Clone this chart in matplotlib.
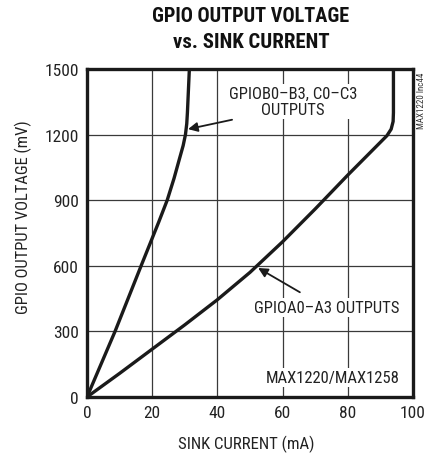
import matplotlib
matplotlib.use("Agg")
import matplotlib.pyplot as plt

plt.rcParams['font.family'] = ['Roboto Condensed', 'Liberation Sans Narrow', 'Liberation Sans', 'DejaVu Sans']

# Data
bc_current = [0, 8.6, 16.6, 22.0, 24.6, 26.7, 28.3, 29.5, 30.2, 30.6, 30.8, 31.1, 31.4]
bc_voltage = [0, 300, 600, 800, 900, 1000, 1086, 1150, 1200, 1250, 1300, 1400, 1500]

a_current = [0, 10, 20, 30, 40, 50, 60, 70, 80, 90, 92, 93.3, 93.9, 94.0, 94.0]
a_voltage = [0, 108, 219, 330, 445, 570, 710, 860, 1015, 1165, 1195, 1225, 1260, 1300, 1500]

x_ticks = [0, 20, 40, 60, 80, 100]
y_ticks = [0, 300, 600, 900, 1200, 1500]

fig = plt.figure(figsize=(4.27, 4.56), dpi=100)
ax = fig.add_axes([87/427, 58/456, 326/427, 328/456])

ax.plot(bc_current, bc_voltage, color='#1a1a1a', lw=2.4, solid_capstyle='round',
        solid_joinstyle='round', zorder=3)
ax.plot(a_current, a_voltage, color='#1a1a1a', lw=2.4, solid_capstyle='round',
        solid_joinstyle='round', zorder=3)

ax.set_xlim(0, 100)
ax.set_ylim(0, 1500)
ax.set_xticks(x_ticks)
ax.set_yticks(y_ticks)
ax.tick_params(length=0, labelsize=12.5, pad=6, colors='#222222')
ax.grid(True, color='#3a3a3a', lw=0.9)
ax.set_axisbelow(True)
for s in ax.spines.values():
    s.set_linewidth(2.4)
    s.set_color('#1a1a1a')

ax.set_xlabel('SINK CURRENT (mA)', fontsize=12, color='#222222')
ax.set_ylabel('GPIO OUTPUT VOLTAGE (mV)', fontsize=12, color='#222222')
ax.xaxis.set_label_coords((246 - 87) / 326, -(445 - 398 - 9) / 328)
ax.yaxis.set_label_coords(-(87 - 32) / 326, (398 - 217) / 328)

t1 = fig.text(251/427, 1 - 17/456, 'GPIO OUTPUT VOLTAGE', ha='center', va='center',
              fontsize=14, fontweight='bold', color='#111111')
t2 = fig.text(251/427, 1 - 43/456, 'vs. SINK CURRENT', ha='center', va='center',
              fontsize=14, fontweight='bold', color='#111111')

box = dict(facecolor='white', edgecolor='none', pad=1.5)
ax.text(63.2, 1352, 'GPIOB0\u2013B3, C0\u2013C3\nOUTPUTS', ha='center', va='center',
        fontsize=12, color='#222222', linespacing=1.05, bbox=box, zorder=4)
ax.annotate('', xy=(31.0, 1225), xytext=(44.5, 1268),
            arrowprops=dict(arrowstyle='-|>', color='#1a1a1a', lw=1.3,
                            mutation_scale=14, shrinkA=0, shrinkB=0), zorder=5)

ax.text(73.5, 410, 'GPIOA0\u2013A3 OUTPUTS', ha='center', va='center',
        fontsize=12, color='#222222', bbox=box, zorder=4)
ax.annotate('', xy=(52.5, 590), xytext=(65.3, 479),
            arrowprops=dict(arrowstyle='-|>', color='#1a1a1a', lw=1.3,
                            mutation_scale=14, shrinkA=0, shrinkB=0), zorder=5)

ax.text(96, 90, 'MAX1220/MAX1258', ha='right', va='center',
        fontsize=12, color='#222222', bbox=box, zorder=4)

fig.text(421.5/427, 1 - 101/456, 'MAX1220 lnc44', rotation=90, ha='center', va='center',
         fontsize=6.5, color='#333333')

# scale a few texts so their length matches the reference
def fit(t, target, vertical=False):
    fig.canvas.draw()
    bb = t.get_window_extent()
    size = bb.height if vertical else bb.width
    if size > 0:
        t.set_fontsize(t.get_fontsize() * target / size)

fit(t1, 199)
fit(t2, 157)
fit(ax.xaxis.label, 136)
fit(ax.yaxis.label, 194, vertical=True)

fig.savefig('out.png', dpi=100)
